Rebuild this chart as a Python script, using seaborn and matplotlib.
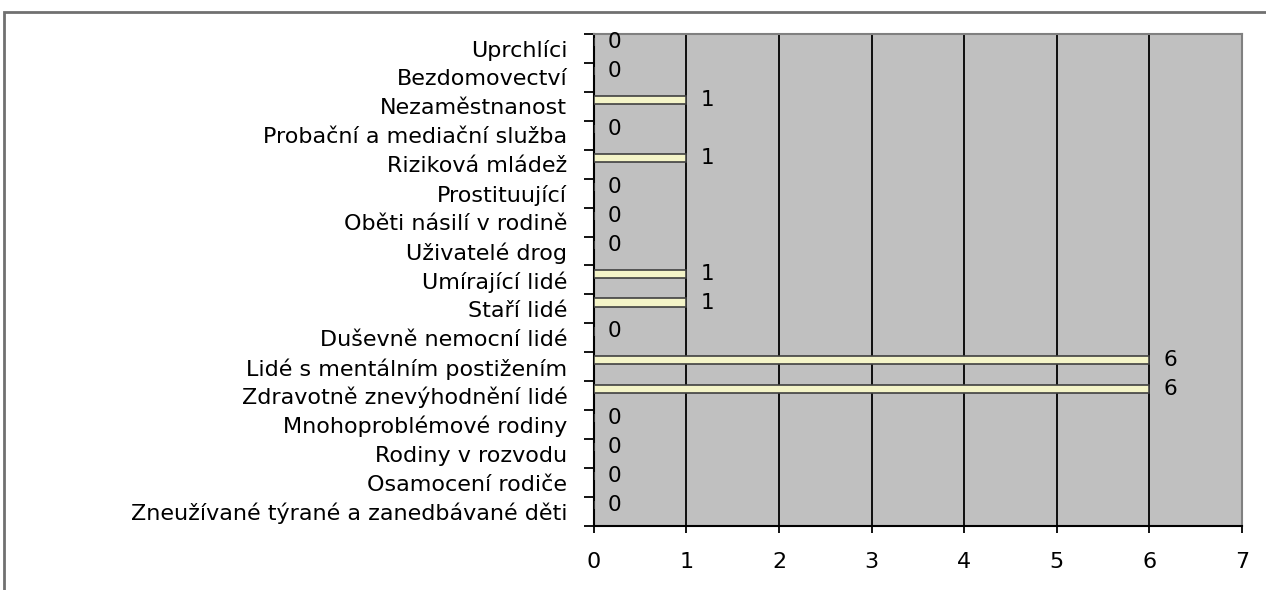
import matplotlib
matplotlib.use("Agg")
import matplotlib.pyplot as plt
from matplotlib.patches import Rectangle
import seaborn as sns
import numpy as np

categories = [
    "Uprchlíci",
    "Bezdomovectví",
    "Nezaměstnanost",
    "Probační a mediační služba",
    "Riziková mládež",
    "Prostituující",
    "Oběti násilí v rodině",
    "Uživatelé drog",
    "Umírající lidé",
    "Staří lidé",
    "Duševně nemocní lidé",
    "Lidé s mentálním postižením",
    "Zdravotně znevýhodnění lidé",
    "Mnohoproblémové rodiny",
    "Rodiny v rozvodu",
    "Osamocení rodiče",
    "Zneužívané týrané a zanedbávané děti",
]
values = [0, 0, 1, 0, 1, 0, 0, 0, 1, 1, 0, 6, 6, 0, 0, 0, 0]
x_ticks = [0, 1, 2, 3, 4, 5, 6, 7]

sns.set_theme(style="white")
plt.rcParams["font.family"] = ["DejaVu Sans"]
plt.rcParams["text.color"] = "black"
plt.rcParams["xtick.color"] = "black"
plt.rcParams["ytick.color"] = "black"

fig = plt.figure(figsize=(12.66, 5.90), dpi=100)
ax = fig.add_axes([0.469, 0.1085, 0.512, 0.834])

sns.barplot(x=values, y=categories, orient="h", width=0.28, color="#f4f4c8",
            saturation=1, edgecolor="#404040", linewidth=1.2, ax=ax, zorder=3)

# excel puts the single series in the upper part of each slot
for p in ax.patches:
    p.set_y(p.get_y() - 0.22)

ax.bar_label(ax.containers[0], padding=10, fontsize=15.5, color="black")

ax.set_facecolor("#c0c0c0")
ax.set_xlim(0, 7)
ax.set_xticks(x_ticks)
ax.xaxis.grid(True, color="black", linewidth=1.3)
ax.yaxis.grid(False)
ax.set_axisbelow(True)

n = len(categories)
ax.set_ylim(n - 0.5, -0.5)
ax.set_yticks(np.arange(-0.5, n, 1), minor=True)
ax.tick_params(axis="y", which="major", length=0, pad=19, labelsize=16, labelcolor="black")
ax.tick_params(axis="y", which="minor", length=7, width=1.3, color="black", left=True)
ax.tick_params(axis="x", length=5, width=1.3, color="black", bottom=True, pad=14,
               labelsize=16, labelcolor="black")
ax.set_xlabel("")
ax.set_ylabel("")

for s in ["top", "right"]:
    ax.spines[s].set_color("#808080")
    ax.spines[s].set_linewidth(1.5)
for s in ["left", "bottom"]:
    ax.spines[s].set_color("black")
    ax.spines[s].set_linewidth(1.5)

# outer chart frame
fig.patches.append(Rectangle((4 / 1266, -0.05), 1.1, 1.05 - 12 / 590, transform=fig.transFigure,
                             fill=False, edgecolor="#707070", linewidth=2))

fig.savefig("out.png", dpi=100)
